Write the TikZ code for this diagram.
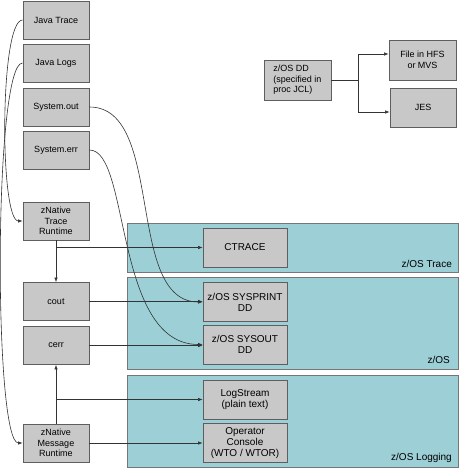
\documentclass[tikz,border=0pt]{standalone}
\usepackage{fontspec}
\setmainfont{Liberation Sans}
\usetikzlibrary{arrows.meta}
\newcommand\boxfont{\fontsize{9}{10.5}\selectfont}
\newcommand\ddfont{\fontsize{10}{11}\selectfont}
\definecolor{boxgray}{HTML}{C8C8C8}
\definecolor{boxedge}{HTML}{5E5E5E}
\definecolor{bandteal}{HTML}{9CCFD6}
\definecolor{bandedge}{HTML}{767676}
\definecolor{wirecol}{HTML}{333333}
\tikzset{
  gbox/.style={draw=boxedge,fill=boxgray,line width=0.9pt,inner sep=1pt,align=center,
    minimum width=66pt,minimum height=38pt},
  band/.style={draw=bandedge,fill=bandteal,line width=0.9pt},
  wire/.style={draw=wirecol,line width=0.6pt},
  arr/.style={wire,-{Latex[length=4.5pt,width=3.5pt]}},
}
\begin{document}
\begin{tikzpicture}[x=1pt,y=-1pt]
    \useasboundingbox (0,0) rectangle (459,468);
    % Shaded bands
    \draw[band] (127,223) rectangle (458,272);
    \draw[band] (127,277) rectangle (458,369);
    \draw[band] (127,375) rectangle (458,467);
    \node[anchor=base east,inner sep=0,font=\ddfont] (ltrace) at (452,267) {z/OS Trace};
    \node[anchor=base east,inner sep=0,font=\ddfont] (lzos) at (450,363) {z/OS};
    \node[anchor=base east,inner sep=0,font=\ddfont] (llog) at (452,460) {z/OS Logging};
    % Left column
    \foreach \nm/\yy/\txt in {jtrace/20/Java Trace, jlogs/63/Java Logs, sysout/107/System.out,
        syserr/150/System.err, ztrace/221/{zNative\\Trace\\Runtime}, cout/301.5/cout,
        cerr/345.5/cerr, zmsg/443/{zNative\\Message\\Runtime}} {
      \node[gbox,font=\boxfont] (\nm) at (56,\yy) {\txt};
    }
    % Targets inside the bands
    \foreach \nm/\yy/\txt in {ctrace/247.5/CTRACE, sysprint/302/{z/OS SYSPRINT\\DD},
        sysdd/344.5/{z/OS SYSOUT\\DD}, logstr/399.5/{LogStream\\(plain text)},
        opcon/443/{Operator\\Console\\(WTO / WTOR)}} {
      \node[gbox,font=\ddfont,minimum width=84pt,minimum height=39pt] (\nm) at (245,\yy) {\txt};
    }
    % DD routing
    \node[gbox,font=\boxfont,minimum width=67pt,minimum height=40pt,align=left] (zdd) at (297.5,80)
      {z/OS DD\\(specified in\\proc JCL)};
    \node[gbox,font=\boxfont,minimum width=67pt,minimum height=40pt] (hfs) at (422.5,60) {File in HFS\\or MVS};
    \node[gbox,font=\boxfont,minimum width=66pt,minimum height=39pt] (jes) at (423,107.5) {JES};
    \draw[wire] (zdd.east) -- ++(27,0) coordinate (fork);
    \draw[arr] (fork) |- ([yshift=6pt]hfs.west);
    \draw[arr] (fork) |- ([yshift=-4.5pt]jes.west);
    % Curved links
    \draw[arr] (jtrace.west) .. controls +(-23,0) and +(-23,0) .. (ztrace.west);
    \draw[arr] (jlogs.west) .. controls +(-29,0) and +(-29,0) .. (zmsg.west);
    \draw[arr] (sysout.east) .. controls +(76,0) and +(-78,0) .. (sysprint.west);
    \draw[arr] (syserr.east) .. controls +(41,0) and +(-89,0) .. (sysdd.west);
    % Straight links
    \draw[arr] (ztrace) -- (cout);
    \draw[arr] (ctrace.west -| ztrace.south) -- (ctrace.west);
    \draw[arr] (cout.east) -- (cout.east -| sysprint.west);
    \draw[arr] (cerr.east) -- (cerr.east -| sysdd.west);
    \draw[arr] (zmsg) -- (cerr);
    \draw[arr] (logstr.west -| zmsg.north) -- (logstr.west);
    \draw[arr] (zmsg.east) -- (zmsg.east -| opcon.west);
  \end{tikzpicture}
\end{document}
